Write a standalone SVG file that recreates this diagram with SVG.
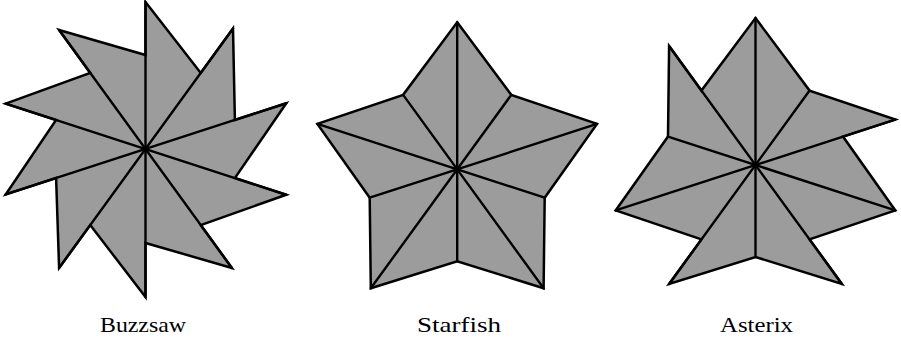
<svg xmlns="http://www.w3.org/2000/svg" width="901" height="339" viewBox="0 0 901 339">
  <style>
    .shape { fill: #9c9c9c; stroke: #000; stroke-width: 2.5; stroke-linejoin: miter; stroke-miterlimit: 10; }
    .ray { fill: none; stroke: #000; stroke-width: 2.4; stroke-linecap: round; }
    .label { font-family: "Liberation Serif", "Times New Roman", serif; font-size: 22px; fill: #000; }
  </style>
  <rect width="901" height="339" fill="#fff"/>

  <g id="buzzsaw" transform="translate(145.5,149)">
    <polygon class="shape" points="0,-147 55.25,-76.05 87.50,-120.43 89.40,-29.05 140.76,-45.74 89.40,29.05 140.76,45.74 55.25,76.05 86.40,118.93 0,94 0,148 -55.25,76.05 -86.40,118.93 -89.40,29.05 -139.81,45.43 -89.40,-29.05 -139.81,-45.43 -55.25,-76.05 -86.40,-118.93 0,-94"/>
    <g class="connectors">
      <line class="ray" x1="0" y1="-147" x2="0" y2="148"/>
      <line class="ray" x1="87.50" y1="-120.43" x2="-86.40" y2="118.93"/>
      <line class="ray" x1="140.76" y1="-45.74" x2="-139.81" y2="45.43"/>
      <line class="ray" x1="140.76" y1="45.74" x2="-139.81" y2="-45.43"/>
      <line class="ray" x1="86.40" y1="118.93" x2="-86.40" y2="-118.93"/>
    </g>
  </g>

  <g id="starfish" transform="translate(457.2,169.3)">
    <polygon class="shape" points="0,-147 54.08,-74.43 139.81,-45.43 87.50,28.43 86.40,118.93 0,92 -86.40,118.93 -87.50,28.43 -139.81,-45.43 -54.08,-74.43"/>
    <g class="connectors">
      <line class="ray" x1="0" y1="-147" x2="0" y2="92"/>
      <line class="ray" x1="54.08" y1="-74.43" x2="-86.40" y2="118.93"/>
      <line class="ray" x1="139.81" y1="-45.43" x2="-87.50" y2="28.43"/>
      <line class="ray" x1="87.50" y1="28.43" x2="-139.81" y2="-45.43"/>
      <line class="ray" x1="86.40" y1="118.93" x2="-54.08" y2="-74.43"/>
    </g>
  </g>

  <g id="asterix" transform="translate(755.5,165)">
    <polygon class="shape" points="0,-147 54.08,-74.43 139.81,-45.43 87.50,-28.43 139.81,45.43 54.08,74.43 86.40,118.93 0,92 -86.40,118.93 -54.08,74.43 -139.81,45.43 -87.50,-28.43 -86.40,-118.93 -54.08,-74.43"/>
    <g class="connectors">
      <line class="ray" x1="0" y1="-147" x2="0" y2="92"/>
      <line class="ray" x1="54.08" y1="-74.43" x2="-86.40" y2="118.93"/>
      <line class="ray" x1="139.81" y1="-45.43" x2="-139.81" y2="45.43"/>
      <line class="ray" x1="139.81" y1="45.43" x2="-87.50" y2="-28.43"/>
      <line class="ray" x1="86.40" y1="118.93" x2="-86.40" y2="-118.93"/>
    </g>
  </g>

  <g id="labels">
    <text class="label" x="100" y="332" textLength="86" lengthAdjust="spacingAndGlyphs">Buzzsaw</text>
    <text class="label" x="417" y="332" textLength="84" lengthAdjust="spacingAndGlyphs">Starfish</text>
    <text class="label" x="720" y="332" textLength="73" lengthAdjust="spacingAndGlyphs">Asterix</text>
  </g>
</svg>
